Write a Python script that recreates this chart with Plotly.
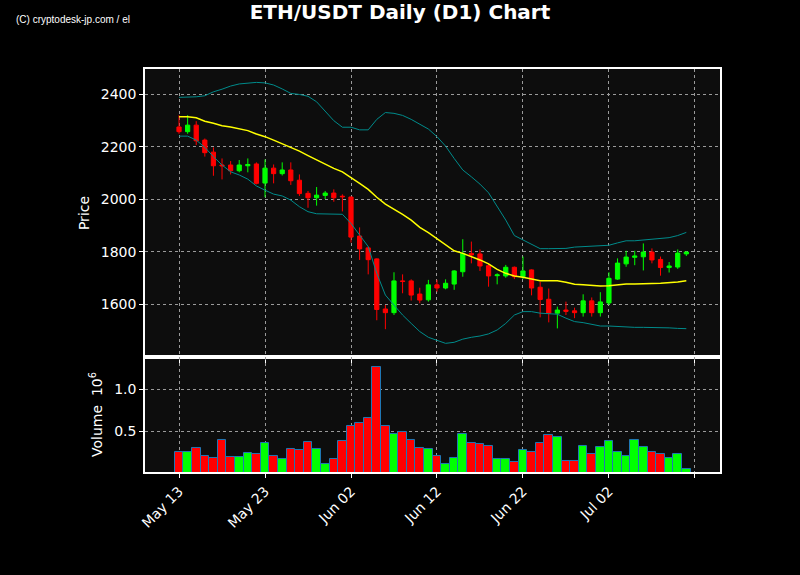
import pandas as pd
import plotly.graph_objects as go
from plotly.subplots import make_subplots

dates = pd.date_range("2023-05-13", periods=60, freq="D")

opens = [2276, 2258, 2283, 2226, 2180, 2131, 2131, 2109, 2128, 2135,
         2062, 2119, 2098, 2112, 2073, 2023, 2006, 2015, 2024, 2012,
         2009, 1860, 1815, 1773, 1582, 1568, 1689, 1689, 1639, 1617,
         1674, 1662, 1677, 1724, 1794, 1792, 1747, 1709, 1708, 1741,
         1705, 1731, 1665, 1619, 1566, 1578, 1575, 1568, 1613, 1568,
         1605, 1696, 1754, 1779, 1781, 1799, 1771, 1740, 1742, 1792]
highs = [2321, 2321, 2298, 2232, 2198, 2156, 2146, 2150, 2156, 2141,
         2152, 2133, 2141, 2141, 2095, 2032, 2047, 2032, 2038, 2019,
         2010, 1893, 1820, 1775, 1597, 1722, 1714, 1695, 1663, 1693,
         1693, 1695, 1730, 1848, 1839, 1809, 1756, 1718, 1750, 1744,
         1782, 1733, 1686, 1660, 1591, 1610, 1587, 1638, 1626, 1646,
         1722, 1775, 1804, 1804, 1832, 1813, 1782, 1761, 1809, 1802]
lows = [2250, 2250, 2207, 2163, 2090, 2076, 2095, 2103, 2103, 2057,
        2008, 2061, 2091, 2055, 2013, 1968, 1976, 2001, 1991, 1954,
        1835, 1769, 1714, 1539, 1505, 1559, 1642, 1614, 1604, 1610,
        1648, 1657, 1655, 1705, 1756, 1727, 1667, 1676, 1701, 1696,
        1696, 1634, 1550, 1531, 1508, 1559, 1547, 1553, 1553, 1553,
        1597, 1693, 1743, 1749, 1729, 1756, 1709, 1721, 1735, 1784]
closes = [2258, 2283, 2223, 2178, 2128, 2128, 2109, 2131, 2133, 2061,
          2119, 2098, 2112, 2071, 2022, 2006, 2016, 2024, 2006, 2010,
          1856, 1811, 1770, 1580, 1568, 1689, 1687, 1635, 1616, 1674,
          1662, 1680, 1727, 1794, 1788, 1746, 1708, 1712, 1741, 1705,
          1727, 1662, 1618, 1566, 1578, 1573, 1568, 1613, 1568, 1609,
          1699, 1757, 1780, 1784, 1799, 1769, 1740, 1746, 1795, 1799]

volumes = [0.258, 0.258, 0.298, 0.202, 0.179, 0.393, 0.190, 0.190, 0.238, 0.226,
           0.357, 0.202, 0.175, 0.286, 0.274, 0.369, 0.286, 0.107, 0.167, 0.381,
           0.563, 0.595, 0.655, 1.262, 0.563, 0.464, 0.488, 0.393, 0.298, 0.286,
           0.202, 0.107, 0.179, 0.464, 0.357, 0.345, 0.321, 0.167, 0.167, 0.131,
           0.274, 0.250, 0.357, 0.452, 0.429, 0.143, 0.143, 0.321, 0.226, 0.310,
           0.381, 0.250, 0.202, 0.393, 0.310, 0.250, 0.226, 0.179, 0.226, 0.048]

sma20 = [2315, 2315, 2311, 2298, 2290, 2281, 2276, 2269, 2262, 2249,
         2239, 2226, 2213, 2198, 2184, 2167, 2150, 2132, 2118, 2105,
         2084, 2061, 2038, 2008, 1982, 1963, 1943, 1921, 1893, 1873,
         1851, 1826, 1804, 1794, 1782, 1769, 1754, 1733, 1718, 1708,
         1703, 1697, 1690, 1690, 1690, 1684, 1676, 1674, 1671, 1670,
         1671, 1675, 1677, 1677, 1677, 1679, 1680, 1682, 1685, 1690]
upper = [2389, 2389, 2391, 2395, 2410, 2420, 2432, 2440, 2443, 2446,
         2444, 2436, 2421, 2404, 2400, 2393, 2372, 2335, 2300, 2275,
         2275, 2265, 2265, 2305, 2331, 2328, 2320, 2305, 2287, 2268,
         2239, 2203, 2156, 2112, 2086, 2058, 2025, 1972, 1921, 1862,
         1845, 1826, 1812, 1812, 1813, 1813, 1818, 1820, 1822, 1823,
         1825, 1834, 1842, 1842, 1845, 1847, 1849, 1854, 1862, 1874]
lower = [2241, 2241, 2226, 2198, 2163, 2131, 2105, 2093, 2077, 2051,
         2035, 2020, 2013, 1997, 1972, 1953, 1945, 1945, 1945, 1943,
         1908, 1864, 1820, 1718, 1635, 1597, 1559, 1527, 1496, 1474,
         1464, 1451, 1455, 1467, 1474, 1479, 1487, 1502, 1527, 1559,
         1572, 1572, 1566, 1563, 1562, 1547, 1534, 1530, 1524, 1517,
         1517, 1515, 1512, 1512, 1512, 1512, 1510, 1510, 1508, 1507]

tick_dates = ["2023-05-13", "2023-05-23", "2023-06-02", "2023-06-12",
              "2023-06-22", "2023-07-02", "2023-07-12"]
tick_labels = ["May 13", "May 23", "Jun 02", "Jun 12", "Jun 22", "Jul 02", ""]

UP = "#00ff00"
DOWN = "#ff0000"
BAND = "#008b8b"
GRID = "#9a9a9a"

vol_colors = [UP if c >= o else DOWN for o, c in zip(opens, closes)]

fig = make_subplots(rows=2, cols=1, shared_xaxes=True, vertical_spacing=0)

fig.add_trace(go.Scatter(x=dates, y=upper, mode="lines",
                         line=dict(color=BAND, width=1), hoverinfo="skip"), row=1, col=1)
fig.add_trace(go.Scatter(x=dates, y=lower, mode="lines",
                         line=dict(color=BAND, width=1), hoverinfo="skip"), row=1, col=1)
fig.add_trace(go.Scatter(x=dates, y=sma20, mode="lines",
                         line=dict(color="#ffff00", width=1.5)), row=1, col=1)
fig.add_trace(go.Candlestick(x=dates, open=opens, high=highs, low=lows, close=closes,
                             increasing=dict(line=dict(color=UP, width=1), fillcolor=UP),
                             decreasing=dict(line=dict(color=DOWN, width=1), fillcolor=DOWN),
                             whiskerwidth=0), row=1, col=1)

fig.add_trace(go.Bar(x=dates, y=volumes, marker=dict(color=vol_colors,
                     line=dict(color="#1f77b4", width=1)), width=86400000),
              row=2, col=1)

axis_common = dict(showline=True, linecolor="white", linewidth=1.5, mirror=True,
                   showgrid=True, gridcolor=GRID, griddash="dot", gridwidth=1,
                   ticks="outside", tickcolor="white", ticklen=4,
                   tickfont=dict(color="white", size=14), zeroline=False)

x_range = ["2023-05-09 01:00", "2023-07-14 22:00"]
fig.update_xaxes(**axis_common, range=x_range, tickvals=tick_dates, ticktext=tick_labels,
                 rangeslider_visible=False)
fig.update_xaxes(showticklabels=False, row=1, col=1)
fig.update_xaxes(tickangle=-45, row=2, col=1)

fig.update_yaxes(**axis_common)
fig.update_yaxes(range=[1399, 2497], tickvals=[1600, 1800, 2000, 2200, 2400],
                 domain=[0.2854, 1.0],
                 title=dict(text="Price", font=dict(color="white", size=14), standoff=8),
                 row=1, col=1)
fig.update_yaxes(range=[0.015, 1.38], tickvals=[0.5, 1.0], ticktext=["0.5", "1.0"],
                 domain=[0.0, 0.2854],
                 title=dict(text="Volume  10<sup>6</sup>", font=dict(color="white", size=14),
                            standoff=8),
                 row=2, col=1)

fig.update_layout(
    width=800, height=575,
    paper_bgcolor="black", plot_bgcolor="#0d0d0d",
    font=dict(family="DejaVu Sans", color="white"),
    margin=dict(l=145, r=80, t=69, b=103),
    showlegend=False, bargap=0,
    title=dict(text="<b>ETH/USDT Daily (D1) Chart</b>", x=0.5, xanchor="center",
               yref="container", y=1 - 12 / 575, yanchor="middle",
               font=dict(size=20, color="white")),
    annotations=[dict(text="(C) cryptodesk-jp.com / el", xref="paper", yref="paper",
                      x=-0.2285, y=0.122 + 1.0, xanchor="left", yanchor="middle",
                      showarrow=False,
                      font=dict(family="Liberation Sans", size=10, color="white"))],
)

fig.write_html("out.html", config={"displayModeBar": False},
               post_script="document.body.style.margin='0';")
